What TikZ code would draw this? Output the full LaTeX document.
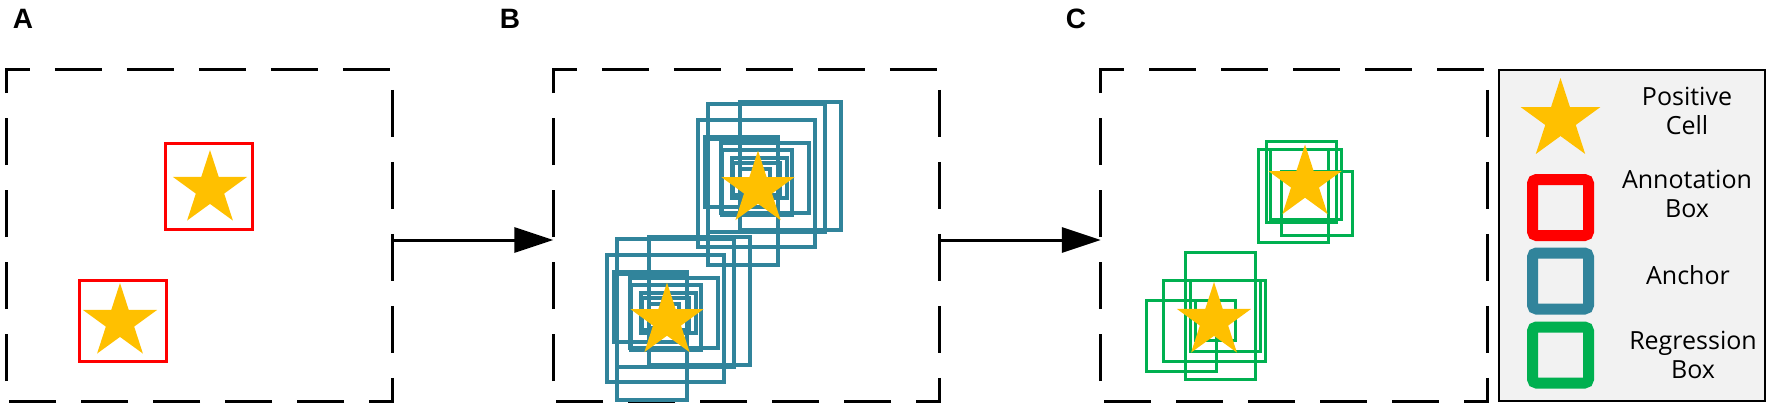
\documentclass[tikz,border=0pt]{standalone}
\usepackage{fontspec}
\setmainfont{Open Sans}
\newfontfamily\labfont{Liberation Sans}
\usetikzlibrary{shapes.geometric,arrows.meta}
\definecolor{starc}{HTML}{FFC000}
\definecolor{annc}{HTML}{FF0000}
\definecolor{ancc}{HTML}{31849B}
\definecolor{regc}{HTML}{00B050}
\definecolor{legbg}{HTML}{F2F2F2}
\newcommand\myanchorset{%
  \draw[anc] (-18,-87) rectangle (83,41);
  \draw[anc] (-50,-85) rectangle (67,43);
  \draw[anc] (-60,-69) rectangle (57,58);
  \draw[anc] (-50,-50) rectangle (20,76);
  \draw[anc,line width=4.8pt] (-53,-52) rectangle (20,18);
  \draw[anc] (-37,-46) rectangle (51,24);
  \draw[anc] (-36,-39) rectangle (34,26);
  \draw[anc] (-26,-31) rectangle (29,9);
  \draw[anc] (-25,-26) rectangle (22,6);
  \draw[anc,line width=4.8pt] (-18,-20) rectangle (12,4);
}
\begin{document}
\begin{tikzpicture}[x=1pt,y=-1pt,
  panel/.style={rectangle,minimum width=386pt,minimum height=331pt,inner sep=0pt,draw=none},
  side/.style={line width=3.2pt,dash pattern=on 47pt off 25pt,dash phase=52pt},
  cell/.style={star,star points=5,star point ratio=2.618,fill=starc,draw=none,inner sep=0pt,minimum size=#1},
  annbox/.style={draw=annc,line width=3pt},
  anc/.style={draw=ancc,line width=3.2pt},
  reg/.style={draw=regc,line width=3pt},
  conn/.style={line width=3pt,-{Triangle[length=39pt,width=25pt]}},
  legsq/.style={draw=#1,line width=11pt,rounded corners=4pt,minimum size=56pt,inner sep=0pt},
  legtxt/.style={font=\fontsize{25}{29}\selectfont,align=center,inner sep=0pt},
  lab/.style={font=\labfont\bfseries\fontsize{28}{30}\selectfont,inner sep=0pt}
]
\useasboundingbox (0,0) rectangle (1772,408);

% panel labels
\node[lab] (la) at (23,19) {A};
\node[lab] (lb) at (510,19) {B};
\node[lab] (lc) at (1076,19) {C};

% panels
\node[panel] (pA) at (199.5,235.5) {};
\node[panel] (pB) at (746.5,235.5) {};
\node[panel] (pC) at (1294,235.5) {};
\foreach \p in {pA,pB,pC}{
  \draw[side] (\p.south west) -- (\p.north west) -- (\p.north east);
  \draw[side] (\p.north east) -- (\p.south east) -- (\p.south west);
}

% connectors
\draw[conn] ([yshift=-4.5pt]pA.east) -- ([yshift=-4.5pt]pB.west);
\draw[conn] ([yshift=-4.5pt]pB.east) -- ([yshift=-4.5pt]pC.west);

% panel A
\draw[annbox] (165,143) rectangle (252,229);
\draw[annbox] (79,280) rectangle (166,361);
\node[cell=78pt] (sa1) at (210,189) {};
\node[cell=78pt] (sa2) at (120,322) {};

% panel B
\begin{scope}[shift={(758,189)}]\myanchorset\end{scope}
\begin{scope}[shift={(667,324)}]\myanchorset\end{scope}
\node[cell=77pt] (sb1) at (758,189) {};
\node[cell=77pt] (sb2) at (667,321) {};

% panel C
\draw[reg] (1266,141) rectangle (1336,222);
\draw[reg] (1258,149) rectangle (1328,242);
\draw[reg] (1270,149) rectangle (1341,219);
\draw[reg] (1281,171) rectangle (1352,235);
\draw[reg] (1185,252) rectangle (1255,379);
\draw[reg] (1163,280) rectangle (1265,361);
\draw[reg] (1146,300) rectangle (1216,371);
\draw[reg] (1190,280) rectangle (1260,351);
\draw[reg] (1195,300) rectangle (1235,340);
\node[cell=77pt] (sc1) at (1305,183) {};
\node[cell=78pt] (sc2) at (1214,321) {};

% legend
\node[rectangle,draw=black,line width=2pt,fill=legbg,minimum width=266pt,minimum height=331pt,inner sep=0pt] (leg) at (1632,235.5) {};
\node[cell=84pt] (ls) at (1560.5,120) {};
\node[legsq=annc] (lr) at (1560.5,207.5) {};
\node[legsq=ancc] (lbx) at (1560.5,281) {};
\node[legsq=regc] (lg) at (1560.5,355) {};
\node[legtxt] (t1) at (1687,111) {Positive\\Cell};
\node[legtxt] (t2) at (1687,194) {Annotation\\Box};
\node[legtxt] (t3) at (1688,275) {Anchor};
\node[legtxt] (t4) at (1693,355) {Regression\\Box};
\end{tikzpicture}
\end{document}
